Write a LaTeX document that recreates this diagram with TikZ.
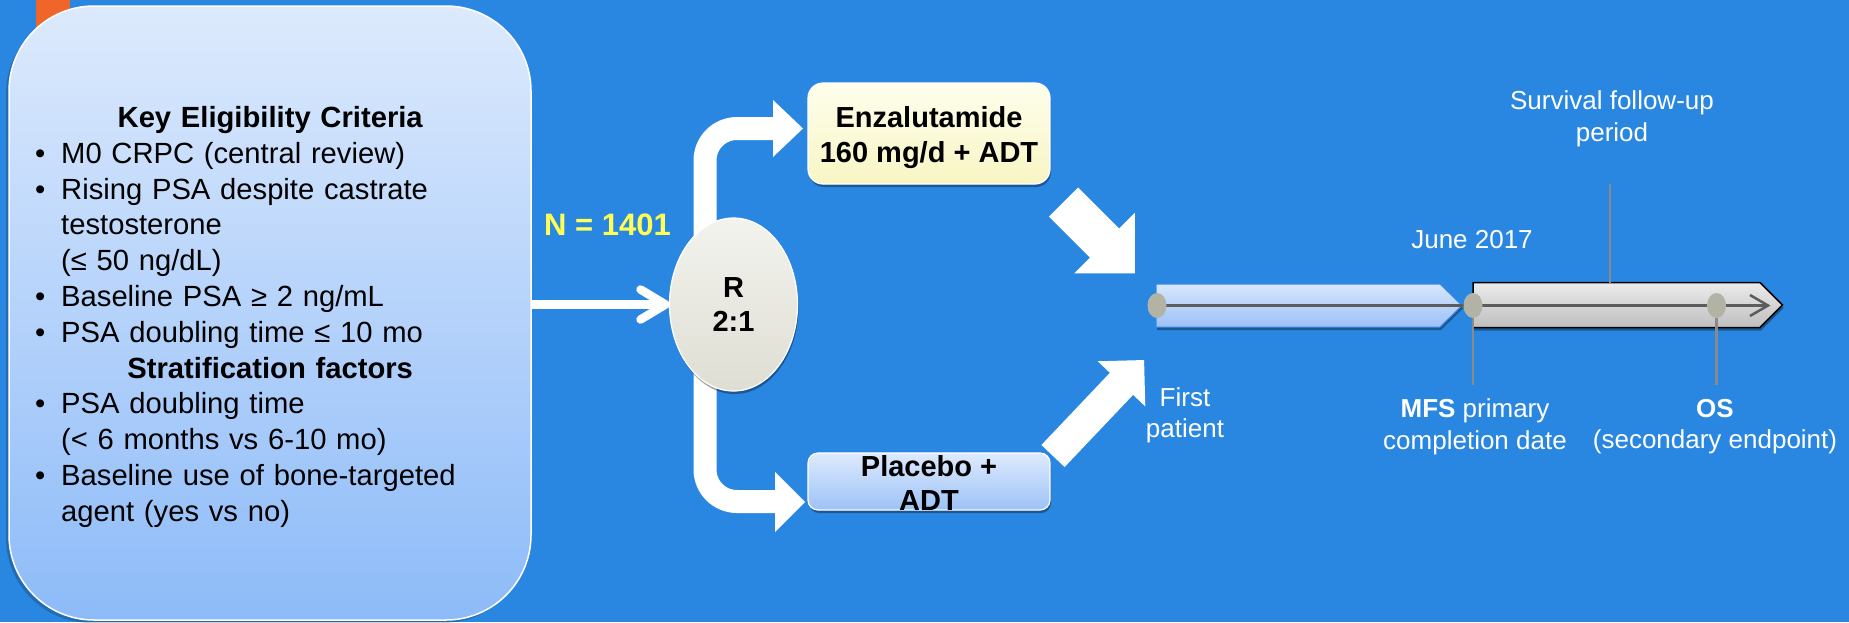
\documentclass[tikz,border=0pt]{standalone}
\usepackage{fontspec}
\setmainfont{Liberation Sans}
\usetikzlibrary{calc,shapes.geometric,shadows}

\definecolor{slidebg}{HTML}{2A87E1}
\definecolor{accent}{HTML}{F0652A}
\definecolor{critTop}{HTML}{DDEAFD}
\definecolor{critBot}{HTML}{8DBBF8}
\definecolor{enzTop}{HTML}{FEFEEC}
\definecolor{enzBot}{HTML}{F8F5C4}
\definecolor{plcTop}{HTML}{DEEAFD}
\definecolor{plcBot}{HTML}{9DC2F7}
\definecolor{rTop}{HTML}{F3F3EE}
\definecolor{rBot}{HTML}{DEDED4}
\definecolor{nYellow}{HTML}{FFFF55}
\definecolor{dotGray}{HTML}{B3B3A5}
\definecolor{tlLine}{HTML}{5C5C5C}
\definecolor{tickGray}{HTML}{8A8A8A}
\definecolor{grayTop}{HTML}{EBEBEB}
\definecolor{grayBot}{HTML}{BEBEBE}
\definecolor{barTop}{HTML}{D8E6FC}
\definecolor{barBot}{HTML}{9CC1F7}
\definecolor{barEdge}{HTML}{3A8AE0}

\pgfdeclarelayer{bg}
\pgfdeclarelayer{back}
\pgfdeclarelayer{front}
\pgfsetlayers{bg,back,main,front}

% bulleted entry with hanging indent, and a centred bold heading
\newcommand\critem[1]{\par\hangindent=26pt\hangafter=1\noindent\makebox[26pt][l]{\textbullet}#1\par}
\newcommand\crithead[1]{{\centering\bfseries #1\par}}
% white block arrow: tail coordinate, angle, length, shaft half width, head half width
\newcommand\blkarrow[5]{\fill[white,shift={(#1)},rotate=#2] (0,-#4) -- ({#3-#5},-#4) -- ({#3-#5},-#5) -- (#3,0) -- ({#3-#5},#5) -- ({#3-#5},#4) -- (0,#4) -- cycle;}

\tikzset{
  softshadow/.style={drop shadow={shadow xshift=1pt, shadow yshift=-3pt, opacity=0.35, fill=black}},
  critbox/.style={rectangle, rounded corners=85pt, minimum width=522pt, minimum height=614pt,
    inner sep=0pt, outer sep=0pt, top color=critTop, bottom color=critBot, draw=white, line width=1.5pt,
    drop shadow={shadow xshift=-3pt, shadow yshift=-3pt, opacity=0.2, fill=black}},
  crittext/.style={text width=470pt, align=left, inner sep=0pt, text=black,
    font=\fontsize{29.2}{35.8}\selectfont},
  nlabel/.style={inner sep=0pt, text=nYellow, font=\fontsize{31}{37}\selectfont\bfseries},
  rnode/.style={ellipse, minimum width=128pt, minimum height=173pt, inner sep=0pt, outer sep=0pt,
    top color=rTop, bottom color=rBot, draw=white, line width=1.2pt, align=center,
    font=\fontsize{29}{34}\selectfont\bfseries, softshadow},
  armbox/.style={rectangle, minimum width=242pt, inner sep=0pt, outer sep=0pt,
    draw=white, line width=1.2pt, softshadow},
  armtext/.style={align=center, inner sep=0pt, text=black, font=\fontsize{29}{35}\selectfont\bfseries},
  band/.style={white, line width=23pt, rounded corners=32pt},
  feed/.style={white, line width=8.5pt},
  tdot/.style={ellipse, minimum width=19pt, minimum height=25pt, inner sep=0pt, outer sep=0pt, fill=dotGray},
  tline/.style={tlLine, line width=2.5pt},
  tick/.style={tickGray, line width=2.2pt},
  tlabel/.style={align=center, inner sep=0pt, text=white, font=\fontsize{26}{31.5}\selectfont}
}

\begin{document}
\begin{tikzpicture}[x=1pt,y=-1pt]
\begin{pgfonlayer}{bg}
  \fill[slidebg] (0,0) rectangle (1849,622);
\end{pgfonlayer}
\useasboundingbox (0,0) rectangle (1849,622);

% corner accent behind the criteria panel
\fill[accent] (36,0) rectangle (70,40);

% criteria panel
\node[critbox] (crit) at (270,313) {};
\node[crittext, anchor=base west] (crittxt) at (35,127.5) {%
  \crithead{Key Eligibility Criteria}
  \critem{M0 CRPC (central review)}
  \critem{Rising PSA despite castrate\newline testosterone\newline (≤ 50 ng/dL)}
  \critem{Baseline PSA ≥ 2 ng/mL}
  \critem{PSA doubling time ≤ 10 mo}
  \crithead{Stratification factors}
  \critem{PSA doubling time\newline (< 6 months vs 6-10 mo)}
  \critem{Baseline use of bone-targeted\newline agent (yes vs no)}%
};

\node[nlabel, anchor=base] (nlbl) at (607.5,235.6) {N = 1401};

% randomisation and treatment arms
\node[rnode] (R) at (733.5,304.5) {R\\2:1};
\node[armbox, rounded corners=15pt, minimum height=101pt, top color=enzTop, bottom color=enzBot] (enz) at (929,133.5) {};
\node[armtext] (enztxt) at ($(enz.center)+(0,4)$) {Enzalutamide\\160 mg/d + ADT};
\node[armbox, rounded corners=10pt, minimum height=57pt, top color=plcTop, bottom color=plcBot] (plc) at (929,481.5) {};
\node[armtext, font=\fontsize{29}{34}\selectfont\bfseries] (plctxt) at ($(plc.center)+(0,1.5)$) {Placebo +\\ADT};

% split band from R to both arms
\begin{pgfonlayer}{back}
  \draw[band] ($(enz.west)+(-35,-5)$) -| ($(R.center)+(-28.5,0)$) |- ($(plc.west)+(-33,20)$);
\end{pgfonlayer}
\fill[white] ($(enz.west)+(-35,-33.5)$) -- ($(enz.west)+(-5,-5)$) -- ($(enz.west)+(-35,23.5)$) -- cycle;
\fill[white] ($(plc.west)+(-33,-9.5)$) -- ($(plc.west)+(-3,20.5)$) -- ($(plc.west)+(-33,50.5)$) -- cycle;

% enrolment arrow into R
\draw[feed] (R.west -| crit.east) -- ($(R.west)+(-6,0)$);
\draw[feed, line cap=round, line join=round] ($(R.west)+(-29,-15)$) -- ($(R.west)+(-4,0)$) -- ($(R.west)+(-29,15)$);

% arms feeding the timeline
\coordinate (d1tail) at ($(enz.south east)+(13.5,18)$);
\coordinate (d2tail) at ($(plc.north east)+(3,3)$);
\blkarrow{d1tail}{-45}{100.8}{20.6}{42.7}
\blkarrow{d2tail}{46.5}{132.3}{16}{32.8}

% timeline milestones
\begin{pgfonlayer}{front}
  \node[tdot] (fp) at (1157,305.5) {};
  \node[tdot] (mfs) at (1473,305.5) {};
  \node[tdot] (os) at (1716.5,305.5) {};
\end{pgfonlayer}

\shade[top color=barTop, bottom color=barBot, draw=barEdge, line width=1pt, softshadow]
  (1156,284) -- (1440,284) -- (1462,305.5) -- (1440,327) -- (1156,327) -- cycle;
\shade[top color=grayTop, bottom color=grayBot, draw=black, line width=1.5pt, softshadow]
  (1473,282.5) -- (1760,282.5) -- (1782.5,305) -- (1760,327.5) -- (1473,327.5) -- cycle;

\coordinate (tlend) at (1768,305.5);
\draw[tline] (fp.center) -- (tlend);
\draw[tline, line join=miter] ($(tlend)+(-18,-10.5)$) -- (tlend) -- ($(tlend)+(-18,10.5)$);

\coordinate (mfsend) at (1473,385);
\coordinate (osend) at (1716.5,385);
\coordinate (survtop) at (1610,184);
\coordinate (gbartop) at (1610,282.5);
\draw[tick] (mfs.south) -- (mfsend);
\draw[tick] (os.south) -- (osend);
\draw[tick] (survtop) -- (gbartop);

\node[tlabel] (fplbl) at (1185,415.3) {First\\patient};
\node[tlabel, anchor=base] (junelbl) at (1472,248.3) {June 2017};
\node[tlabel] (survlbl) at (1612,118.6) {Survival follow-up\\period};
\node[tlabel] (mfslbl) at (1475,426.7) {\textbf{MFS} primary\\completion date};
\node[tlabel] (oslbl) at (1715,426.7) {\textbf{OS}\\(secondary endpoint)};
\end{tikzpicture}
\end{document}
